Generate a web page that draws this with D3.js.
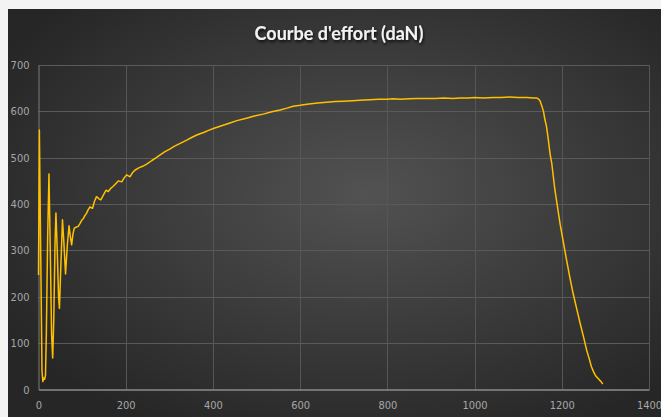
<!doctype html>
<html lang="fr">
<head>
<meta charset="utf-8">
<title>Courbe d'effort</title>
<script src="https://d3js.org/d3.v7.min.js"></script>
<style>
  body { margin:0; background:#f3f3f3; }
  svg { display:block; }
  .tick text { fill:#a6a6a6; font-family:"Liberation Sans Narrow","DejaVu Sans Condensed",Lato,sans-serif; font-size:11px; }
</style>
</head>
<body>
<div id="chart"></div>
<script>
// deplacement (x) / effort en daN (y)
var deplacement = [0,2,5,8,10,12,14,16,18,21,24,27,30,32.5,35,38,40,43,46,48,51,55,58,62,66,70,73,76,79,82,86,91,95,99,103,107,110,114,118,121,124,128,133,138,143,149,155,160,166,172,177,183,187,191,196,202,206,210,215,221,230,240,248,260,270,279,290,300,312,325,340,350,363,380,390,401,420,439,455,477,495,515,535,554,570,584,600,620,640,661,680,700,720,737,760,780,800,814,830,850,870,890,910,930,950,966,985,1000,1020,1043,1060,1081,1100,1120,1135,1142,1146,1150,1154,1158,1161,1165,1169,1173,1177,1184,1190,1196,1204,1211,1218,1226,1234,1242,1250,1257,1263,1268,1273,1278,1285,1290,1294];
var effort = [247,560,300,40,17,25,22,30,120,330,465,300,120,68,150,320,381,300,200,175,260,366,320,249,310,353,330,312,335,348,350,352,358,365,369,376,380,388,394,392,391,405,416,412,409,420,430,427,434,439,444,450,449,448,456,463,461,459,467,473,478,482,486,494,500,506,513,518,525,531,538,543,549,555,559,563,569,575,580,585,590,594,599,603,607,611,613,616,618,619.5,621,622,623,624,625,626,626,627,626,627,628,628,628,629,628,629,629,630,629,630,630,631,630,630,629,629,627,623,612,600,584,567,540,509,488,432,395,358,316,279,244,207,175,143,113,85,66,49,38,29,22,17,12];

var xTicks = [0,200,400,600,800,1000,1200,1400];
var yTicks = [0,100,200,300,400,500,600,700];
var titre = "Courbe d'effort (daN)";

var W = 661, H = 417;
var svg = d3.select("#chart").append("svg").attr("width", W).attr("height", H);
var defs = svg.append("defs");

var bg = defs.append("radialGradient").attr("id","bg")
  .attr("cx","0.55").attr("cy","0.45").attr("r","0.65");
bg.append("stop").attr("offset","0").attr("stop-color","#525252");
bg.append("stop").attr("offset","1").attr("stop-color","#262626");

var sh = defs.append("filter").attr("id","shadow");
sh.append("feDropShadow").attr("dx",1).attr("dy",2).attr("stdDeviation",1.5)
  .attr("flood-color","#000").attr("flood-opacity",0.8);

svg.append("rect").attr("width",W).attr("height",H).attr("fill","#f3f3f3");
svg.append("rect").attr("x",8).attr("y",9).attr("width",W-8).attr("height",H-9).attr("fill","url(#bg)");

var x = d3.scaleLinear().domain([0,1400]).range([38.5,649]);
var y = d3.scaleLinear().domain([0,700]).range([389.5,65]);

// quadrillage
svg.append("g").selectAll("line").data(yTicks.slice(1)).join("line")
  .attr("x1",x(0)).attr("x2",x(1400))
  .attr("y1",d=>Math.round(y(d))+0.5).attr("y2",d=>Math.round(y(d))+0.5)
  .attr("stroke","#5a5a5a").attr("stroke-width",1);
svg.append("g").selectAll("line").data(xTicks.slice(1)).join("line")
  .attr("y1",y(0)).attr("y2",y(700))
  .attr("x1",d=>Math.round(x(d))+0.5).attr("x2",d=>Math.round(x(d))+0.5)
  .attr("stroke","#565656").attr("stroke-width",1);

var xAxis = svg.append("g").attr("transform","translate(0,"+y(0)+")")
  .call(d3.axisBottom(x).tickValues(xTicks).tickFormat(d3.format("d")).tickSize(0).tickPadding(12));
xAxis.select(".domain").attr("stroke","#8c8c8c").attr("stroke-width",1.5);

var yAxis = svg.append("g").attr("transform","translate("+x(0)+",0)")
  .call(d3.axisLeft(y).tickValues(yTicks).tickFormat(d3.format("d")).tickSize(0).tickPadding(9));
yAxis.select(".domain").attr("stroke","#7a7a7a").attr("stroke-width",1);

var pts = deplacement.map((d,i)=>[d, effort[i]]);
svg.append("path").datum(pts)
  .attr("d", d3.line().x(d=>x(d[0])).y(d=>y(d[1])))
  .attr("fill","none").attr("stroke","#ffc000").attr("stroke-width",1.5)
  .attr("stroke-linejoin","round");

svg.append("text").attr("x",339).attr("y",40).attr("text-anchor","middle")
  .attr("fill","#f2f2f2").attr("font-family","Lato,'Open Sans',sans-serif")
  .attr("font-weight","bold").attr("font-size","18px")
  .attr("filter","url(#shadow)").text(titre);
</script>
</body>
</html>
